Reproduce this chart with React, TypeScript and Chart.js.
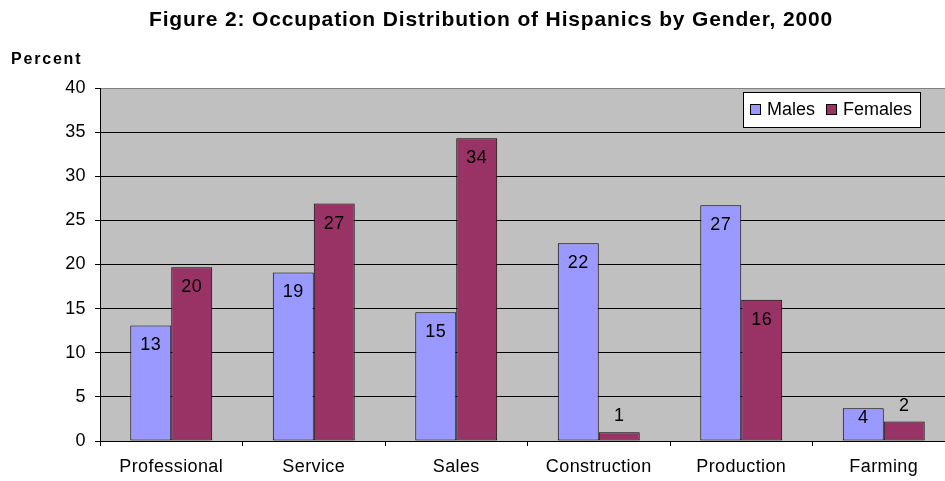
import React, { useEffect, useRef } from "react";
import { Chart, registerables } from "chart.js";

Chart.register(...registerables);

const categories = ["Professional", "Service", "Sales", "Construction", "Production", "Farming"];
const males = [13.1, 19.1, 14.6, 22.4, 26.7, 3.7];
const females = [19.7, 26.9, 34.3, 1.0, 16.0, 2.2];
const seriesNames = ["Males", "Females"];
const yTicks = [0, 5, 10, 15, 20, 25, 30, 35, 40];
const titleText = "Figure 2: Occupation Distribution of Hispanics by Gender, 2000";
const yAxisTitle = "Percent";

const FONT = "'Liberation Sans', Arial, sans-serif";

const bgPlugin = {
  id: "plotBg",
  beforeDraw(chart: any) {
    const { ctx, chartArea } = chart;
    (ctx as any).letterSpacing = "0.4px";
    ctx.save();
    ctx.fillStyle = "#C0C0C0";
    ctx.fillRect(chartArea.left, chartArea.top, chartArea.right - chartArea.left, chartArea.bottom - chartArea.top);
    ctx.restore();
  },
};

const textPlugin = {
  id: "texts",
  afterDraw(chart: any) {
    const { ctx } = chart;
    ctx.save();
    ctx.fillStyle = "#000";
    ctx.font = `bold 21px ${FONT}`;
    (ctx as any).letterSpacing = "0.85px";
    ctx.textAlign = "center";
    ctx.textBaseline = "middle";
    ctx.fillText(titleText, chart.width / 2, 20);
    ctx.textAlign = "left";
    ctx.font = `bold 16px ${FONT}`;
    (ctx as any).letterSpacing = "1.8px";
    ctx.fillText(yAxisTitle, 11, 60);
    ctx.restore();
  },
};

const labelPlugin = {
  id: "barLabels",
  afterDatasetsDraw(chart: any) {
    const { ctx } = chart;
    ctx.save();
    ctx.fillStyle = "#000";
    ctx.font = `18px ${FONT}`;
    ctx.textAlign = "center";
    ctx.textBaseline = "middle";
    chart.data.datasets.forEach((ds: any, di: number) => {
      const meta = chart.getDatasetMeta(di);
      meta.data.forEach((bar: any, i: number) => {
        const v = ds.data[i];
        const h = bar.base - bar.y;
        let y;
        if (h >= 40) y = bar.y + 20;
        else if (h >= 25) y = bar.y + 10;
        else y = bar.y - 16;
        ctx.fillText(String(Math.round(v)), bar.x, y);
      });
    });
    ctx.restore();
  },
};

const legendPlugin = {
  id: "boxLegend",
  afterDraw(chart: any) {
    const { ctx, chartArea } = chart;
    const right = chartArea.right - 34;
    const left = right - 178;
    const top = chartArea.top + 4;
    const h = 36;
    ctx.save();
    (ctx as any).letterSpacing = "0px";
    ctx.fillStyle = "#FFFFFF";
    ctx.fillRect(left, top, right - left, h);
    ctx.strokeStyle = "#000";
    ctx.lineWidth = 1;
    ctx.strokeRect(left + 0.5, top + 0.5, right - left - 1, h - 1);
    ctx.font = `18px ${FONT}`;
    ctx.textBaseline = "middle";
    ctx.textAlign = "left";
    let x = left + 7;
    chart.data.datasets.forEach((ds: any) => {
      ctx.fillStyle = ds.backgroundColor;
      ctx.fillRect(x, top + 12, 11, 11);
      ctx.strokeStyle = "#000";
      ctx.strokeRect(x + 0.5, top + 12.5, 10, 10);
      ctx.fillStyle = "#000";
      ctx.fillText(ds.label, x + 17, top + h / 2);
      x += 17 + ctx.measureText(ds.label).width + 11;
    });
    ctx.restore();
  },
};

export default function App() {
  const ref = useRef<HTMLCanvasElement>(null);
  useEffect(() => {
    if (!ref.current) return;
    const chart = new Chart(ref.current, {
      type: "bar",
      data: {
        labels: categories,
        datasets: [
          {
            label: seriesNames[0],
            data: males,
            backgroundColor: "#9999FF",
            borderColor: "#000",
            borderWidth: 1,
            borderSkipped: false,
          },
          {
            label: seriesNames[1],
            data: females,
            backgroundColor: "#993366",
            borderColor: "#000",
            borderWidth: 1,
            borderSkipped: false,
          },
        ],
      },
      options: {
        animation: false,
        responsive: false,
        maintainAspectRatio: false,
        layout: { padding: { top: 88, right: 27, left: 0, bottom: 0 } },
        datasets: { bar: { categoryPercentage: 0.575, barPercentage: 1 } },
        plugins: {
          legend: { display: false },
          title: { display: false },
          tooltip: { enabled: false },
        },
        scales: {
          x: {
            grid: {
              drawOnChartArea: false,
              drawTicks: true,
              tickLength: 5,
              color: "#000",
              offset: true,
            },
            border: { color: "#000", width: 1 },
            ticks: {
              color: "#000",
              font: { family: FONT, size: 18 },
              padding: 10,
              maxRotation: 0,
            },
            afterFit(scale: any) {
              scale.height = 40;
            },
          },
          y: {
            min: 0,
            max: 40,
            afterBuildTicks(scale: any) {
              scale.ticks = yTicks.map((v) => ({ value: v }));
            },
            grid: {
              color: (c: any) => (c.tick && c.tick.value === 40 ? "#808080" : "#000"),
              tickColor: "#000",
              tickLength: 5,
              lineWidth: 1,
            },
            border: { color: "#000", width: 1 },
            ticks: {
              color: "#000",
              font: { family: FONT, size: 18 },
              padding: 9,
            },
            afterFit(scale: any) {
              scale.width = 100;
            },
          },
        },
      },
      plugins: [bgPlugin, labelPlugin, legendPlugin, textPlugin],
    });
    return () => chart.destroy();
  }, []);
  return (
    <div style={{ position: "absolute", left: 0, top: 0, width: 945, height: 481, overflow: "hidden", background: "#fff" }}>
      <canvas ref={ref} width={982} height={481} style={{ display: "block", width: 982, height: 481 }} />
    </div>
  );
}
